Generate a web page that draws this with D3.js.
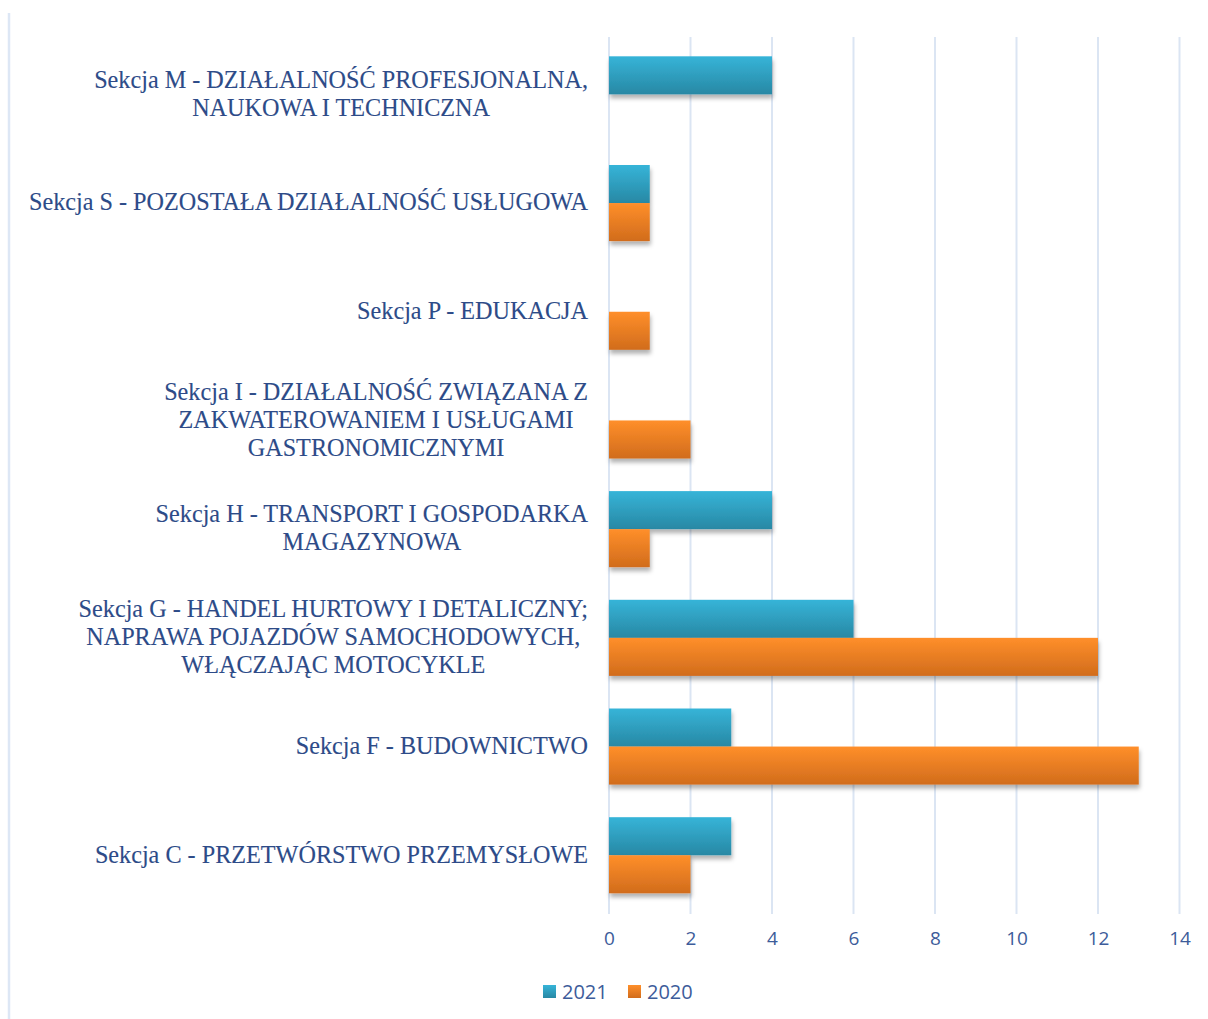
<!DOCTYPE html>
<html>
<head>
<meta charset="utf-8">
<script src="https://cdn.jsdelivr.net/npm/d3@7"></script>
<style>
  body { margin: 0; background: #fff; }
  .catLabel { font-family: "Liberation Serif", "Times New Roman", serif; font-size: 24.2px; fill: #2d4b88; stroke: #2d4b88; stroke-width: 0.12px; }
  .tick text { font-family: "Open Sans", "Liberation Sans", sans-serif; font-size: 19px; fill: #3d5c9a; }
  .legendText { font-family: "Open Sans", "Liberation Sans", sans-serif; font-size: 20px; fill: #3d5c9a; }
</style>
</head>
<body>
<script>
//categories, top to bottom; each entry is the lines of its label
var categories = ["M", "S", "P", "I", "H", "G", "F", "C"];
var categoryLabels = [
    ["Sekcja M - DZIAŁALNOŚĆ PROFESJONALNA,", "NAUKOWA I TECHNICZNA"],
    ["Sekcja S - POZOSTAŁA DZIAŁALNOŚĆ USŁUGOWA"],
    ["Sekcja P - EDUKACJA"],
    ["Sekcja I - DZIAŁALNOŚĆ ZWIĄZANA Z", "ZAKWATEROWANIEM I USŁUGAMI", "GASTRONOMICZNYMI"],
    ["Sekcja H - TRANSPORT I GOSPODARKA", "MAGAZYNOWA"],
    ["Sekcja G - HANDEL HURTOWY I DETALICZNY;", "NAPRAWA POJAZDÓW SAMOCHODOWYCH,", "WŁĄCZAJĄC MOTOCYKLE"],
    ["Sekcja F - BUDOWNICTWO"],
    ["Sekcja C - PRZETWÓRSTWO PRZEMYSŁOWE"]
];
var series = ["2021", "2020"];
var values2021 = [4, 1, 0, 0, 4, 6, 3, 3];
var values2020 = [0, 1, 1, 2, 1, 12, 13, 2];
var tickValues = [0, 2, 4, 6, 8, 10, 12, 14];

var width = 1208,
    height = 1019;

var svg = d3.select("body")
    .append("svg")
    .attr("width", width)
    .attr("height", height);

//gradients and shadow for the bars
var defs = svg.append("defs");
var grads = [
    {id: "g2021", top: "#36b4d8", bottom: "#2888a4"},
    {id: "g2020", top: "#ff8f2a", bottom: "#d16c1c"}
];
grads.forEach(function(g){
    var lg = defs.append("linearGradient")
        .attr("id", g.id)
        .attr("x1", 0).attr("y1", 0).attr("x2", 0).attr("y2", 1);
    lg.append("stop").attr("offset", "0%").attr("stop-color", g.top);
    lg.append("stop").attr("offset", "100%").attr("stop-color", g.bottom);
});
defs.append("filter")
    .attr("id", "shadow")
    .attr("x", "-10%").attr("y", "-20%").attr("width", "130%").attr("height", "160%")
    .append("feDropShadow")
    .attr("dx", 1).attr("dy", 4)
    .attr("stdDeviation", 2)
    .attr("flood-color", "#000")
    .attr("flood-opacity", 0.3);

//left frame line
svg.append("line")
    .attr("x1", 9).attr("x2", 9)
    .attr("y1", 13).attr("y2", height)
    .attr("stroke", "#dde7f5")
    .attr("stroke-width", 2.5);

var x = d3.scaleLinear()
    .domain([0, 14])
    .range([609, 1179.5]);

var y = d3.scaleBand()
    .domain(categories)
    .range([40, 909.6])
    .paddingInner(0.3)
    .paddingOuter(0.15);

var ySub = d3.scaleBand()
    .domain(series)
    .range([0, y.bandwidth()]);

//gridlines
svg.append("g")
    .selectAll("line")
    .data(tickValues)
    .enter()
    .append("line")
    .attr("x1", function(d){ return x(d); })
    .attr("x2", function(d){ return x(d); })
    .attr("y1", 37)
    .attr("y2", 914)
    .attr("stroke", "#dbe5f3")
    .attr("stroke-width", 2);

//x axis labels
var xAxis = svg.append("g")
    .attr("transform", "translate(0,931)")
    .call(d3.axisBottom(x).tickValues(tickValues).tickSize(0).tickPadding(0));
xAxis.select(".domain").remove();
xAxis.selectAll(".tick text").attr("dy", "0.71em");

//bars
var rows = categories.map(function(c, i){
    return {cat: c, vals: [values2021[i], values2020[i]]};
});
var groups = svg.selectAll(".cat")
    .data(rows)
    .enter()
    .append("g")
    .attr("class", "cat")
    .attr("transform", function(d){ return "translate(0," + y(d.cat) + ")"; });

groups.selectAll("rect")
    .data(function(d){
        return series.map(function(s, j){ return {s: s, v: d.vals[j]}; })
            .filter(function(b){ return b.v > 0; });
    })
    .enter()
    .append("rect")
    .attr("x", x(0))
    .attr("y", function(d){ return ySub(d.s); })
    .attr("width", function(d){ return x(d.v) - x(0); })
    .attr("height", ySub.bandwidth())
    .attr("fill", function(d){ return "url(#g" + d.s + ")"; })
    .attr("filter", "url(#shadow)");

//category labels: lines centered on each other, block right-aligned
var labelRight = 588,
    lineHeight = 28;
categories.forEach(function(c, i){
    var lines = categoryLabels[i];
    var g = svg.append("text")
        .attr("class", "catLabel")
        .attr("text-anchor", "middle");
    var cy = y(c) + y.bandwidth() / 2;
    var top = cy - (lines.length - 1) * lineHeight / 2;
    lines.forEach(function(l, k){
        g.append("tspan")
            .attr("y", top + k * lineHeight)
            .attr("dy", "0.3em")
            .text(l);
    });
    var maxW = 0;
    g.selectAll("tspan").each(function(){
        maxW = Math.max(maxW, this.getComputedTextLength());
    });
    g.selectAll("tspan").attr("x", labelRight - maxW / 2);
});

//legend
var legend = svg.append("g")
    .attr("transform", "translate(543,992)");
var legendColors = {"2021": "url(#g2021)", "2020": "url(#g2020)"};
var legendX = [0, 85];
series.forEach(function(s, i){
    legend.append("rect")
        .attr("x", legendX[i])
        .attr("y", -7)
        .attr("width", 13)
        .attr("height", 13)
        .attr("fill", legendColors[s]);
    legend.append("text")
        .attr("class", "legendText")
        .attr("x", legendX[i] + 19)
        .attr("y", 0)
        .attr("dy", "0.35em")
        .text(s);
});
</script>
</body>
</html>
